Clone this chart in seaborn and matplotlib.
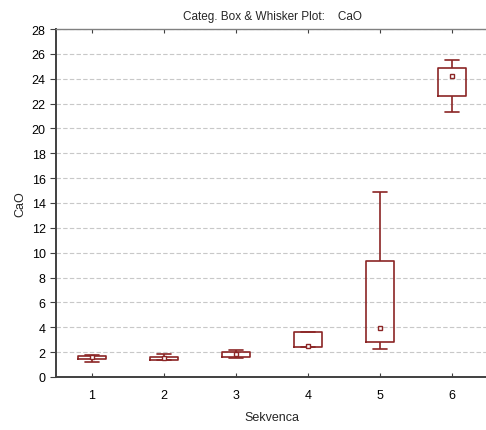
import pandas as pd
import matplotlib
matplotlib.use("Agg")
import matplotlib.pyplot as plt
import seaborn as sns

# five-number summaries per sequence: min, q1, median, q3, max
categories = ["1", "2", "3", "4", "5", "6"]
mins = [1.21, 1.34, 1.50, 2.39, 2.28, 21.34]
q1s = [1.42, 1.39, 1.58, 2.39, 2.82, 22.63]
medians = [1.58, 1.55, 1.83, 2.47, 3.94, 24.24]
q3s = [1.71, 1.58, 1.99, 3.62, 9.36, 24.89]
maxs = [1.79, 1.83, 2.15, 3.62, 14.86, 25.48]

RED = "#8B2525"


def main():
    rows = []
    for i, cat in enumerate(categories):
        for v in (mins[i], q1s[i], medians[i], q3s[i], maxs[i]):
            rows.append({"Sekvenca": cat, "CaO": v})
    df = pd.DataFrame(rows)

    sns.set_style("white")
    plt.rcParams["font.family"] = ["Liberation Sans", "DejaVu Sans"]

    fig = plt.figure(figsize=(4.86, 4.31), dpi=100)
    ax = fig.add_axes([56 / 486, 1 - 378 / 431, 432 / 486, 348 / 431])

    line = dict(color=RED, linewidth=1.2)
    sns.boxplot(data=df, x="Sekvenca", y="CaO", order=categories, whis=(0, 100),
                width=0.4, fill=False, showfliers=False,
                boxprops=line, whiskerprops=line, capprops=line,
                medianprops=dict(linewidth=0), ax=ax)
    for ln in ax.lines:
        if len(ln.get_xdata()) == 2 and ln.get_xdata()[0] != ln.get_xdata()[1]:
            x0, x1 = ln.get_xdata()
            c = (x0 + x1) / 2
            ln.set_xdata([c - 0.1, c + 0.1])
    sns.pointplot(data=df, x="Sekvenca", y="CaO", order=categories,
                  estimator="median", errorbar=None, linestyle="none",
                  marker="s", markersize=3.5, markerfacecolor="white",
                  markeredgecolor=RED, markeredgewidth=1.0, color=RED, ax=ax)

    ax.set_xlim(-0.5, 5.5)
    ax.set_ylim(0, 28)
    ax.set_yticks(range(0, 29, 2))
    ax.yaxis.grid(True, linestyle=(0, (4, 2)), color="#c8c8c8", linewidth=0.8)
    ax.set_axisbelow(True)

    for side in ("left", "bottom"):
        ax.spines[side].set_color("#404040")
        ax.spines[side].set_linewidth(1.4)
    ax.spines["top"].set_color("#808080")
    ax.spines["top"].set_linewidth(1.0)
    ax.spines["right"].set_visible(False)

    ax.tick_params(axis="y", direction="out", length=4, width=0.8,
                   colors="#404040", labelcolor="black", labelsize=9, left=True)
    ax.tick_params(axis="x", direction="in", length=3, width=0.8,
                   colors="#404040", labelcolor="black", labelsize=9,
                   bottom=True, top=True, pad=9)

    ax.set_xlabel("Sekvenca", fontsize=9, labelpad=7)
    ax.set_ylabel("CaO", fontsize=9, labelpad=4)
    ax.set_title("Categ. Box & Whisker Plot:    CaO", fontsize=8.5, pad=7)

    fig.savefig("out.png", dpi=100)
    plt.close(fig)


if __name__ == "__main__":
    main()
